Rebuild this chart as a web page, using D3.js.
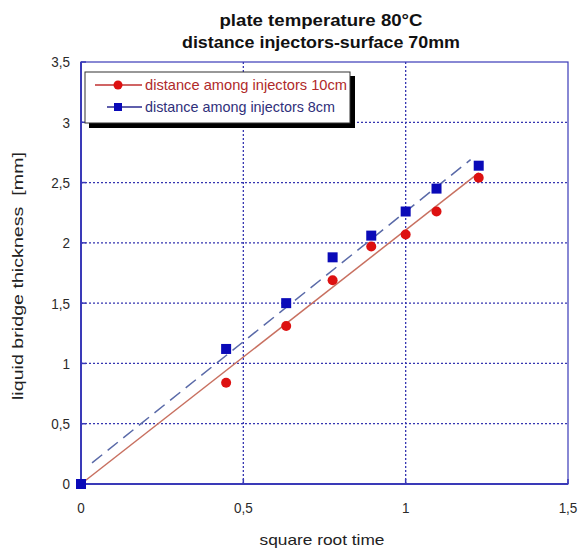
<!DOCTYPE html>
<html lang="en">
<head>
<meta charset="UTF-8">
<title>liquid bridge thickness</title>
<script src="https://d3js.org/d3.v7.min.js"></script>
<style>
  body { margin: 0; background: #fff; }
  text { font-family: "Liberation Sans", Arial, sans-serif; }
</style>
</head>
<body>
<script>
// data
const sqrtTime = [0, 0.447, 0.632, 0.775, 0.894, 1.0, 1.095, 1.225];
const thick10cm = [0, 0.84, 1.31, 1.69, 1.97, 2.07, 2.26, 2.54];
const thick8cm = [0, 1.12, 1.50, 1.88, 2.06, 2.26, 2.45, 2.64];
// fitted lines (start / end points)
const fit10cm = [[0, 0], [1.225, 2.58]];
const fit8cm = [[0.034, 0.175], [1.2, 2.69]];
const xTicks = [0, 0.5, 1, 1.5];
const yTicks = [0, 0.5, 1, 1.5, 2, 2.5, 3, 3.5];
const titleLines = ["plate temperature 80°C", "distance injectors-surface 70mm"];
const legendLabels = ["distance among injectors 10cm", "distance among injectors 8cm"];

const W = 581, H = 548;
const margin = {left: 81, right: 13, top: 62, bottom: 64};

const svg = d3.select("body").append("svg")
    .attr("width", W)
    .attr("height", H);

const x = d3.scaleLinear().domain([0, 1.5]).range([margin.left, W - margin.right]);
const y = d3.scaleLinear().domain([0, 3.5]).range([H - margin.bottom, margin.top]);

const axisBlue = "#3a3ab8";
const fmt = d => String(d).replace(".", ",");

// grid
svg.append("g").selectAll("line.gy")
    .data(yTicks.slice(1, -1))
    .enter().append("line")
    .attr("x1", x(0)).attr("x2", x(1.5))
    .attr("y1", d => y(d)).attr("y2", d => y(d))
    .attr("stroke", "#3535b0").attr("stroke-width", 1.3)
    .attr("stroke-dasharray", "2,2");
svg.append("g").selectAll("line.gx")
    .data(xTicks.slice(1, -1))
    .enter().append("line")
    .attr("y1", y(0)).attr("y2", y(3.5))
    .attr("x1", d => x(d)).attr("x2", d => x(d))
    .attr("stroke", "#3535b0").attr("stroke-width", 1.3)
    .attr("stroke-dasharray", "2,2");

// frame
svg.append("rect")
    .attr("x", x(0)).attr("y", y(3.5))
    .attr("width", x(1.5) - x(0)).attr("height", y(0) - y(3.5))
    .attr("fill", "none").attr("stroke", axisBlue).attr("stroke-width", 1.2);
svg.append("line")
    .attr("x1", x(0)).attr("x2", x(0)).attr("y1", y(0)).attr("y2", y(3.5))
    .attr("stroke", axisBlue).attr("stroke-width", 2);
svg.append("line")
    .attr("x1", x(0)).attr("x2", x(1.5)).attr("y1", y(0)).attr("y2", y(0))
    .attr("stroke", axisBlue).attr("stroke-width", 2);

// small inner ticks
xTicks.forEach(t => {
  svg.append("line").attr("x1", x(t)).attr("x2", x(t))
     .attr("y1", y(0)).attr("y2", y(0) - 5).attr("stroke", axisBlue).attr("stroke-width", 1.5);
});
yTicks.forEach(t => {
  svg.append("line").attr("x1", x(0)).attr("x2", x(0) + 5)
     .attr("y1", y(t)).attr("y2", y(t)).attr("stroke", axisBlue).attr("stroke-width", 1.5);
});

// tick labels
svg.append("g").selectAll("text")
    .data(yTicks)
    .enter().append("text")
    .attr("x", x(0) - 11).attr("y", d => y(d) + 5.5)
    .attr("text-anchor", "end").attr("font-size", 15).attr("fill", "#2a2a2a")
    .attr("transform", d => `translate(${x(0) - 11},0) scale(0.9,1) translate(${-(x(0) - 11)},0)`)
    .text(fmt);
svg.append("g").selectAll("text")
    .data(xTicks)
    .enter().append("text")
    .attr("x", d => x(d)).attr("y", y(0) + 29)
    .attr("text-anchor", "middle").attr("font-size", 15).attr("fill", "#2a2a2a")
    .attr("transform", d => `translate(${x(d)},0) scale(0.9,1) translate(${-x(d)},0)`)
    .text(fmt);

// axis titles
svg.append("text")
    .attr("x", 322).attr("y", 545)
    .attr("text-anchor", "middle").attr("font-size", 15).attr("fill", "#222")
    .attr("textLength", 125).attr("lengthAdjust", "spacingAndGlyphs")
    .text("square root time");
svg.append("text")
    .attr("transform", "translate(23,276) rotate(-90)")
    .attr("text-anchor", "middle").attr("font-size", 15).attr("fill", "#222")
    .attr("xml:space", "preserve")
    .attr("textLength", 248).attr("lengthAdjust", "spacingAndGlyphs")
    .text("liquid bridge thickness  [mm]");

// chart title
svg.append("g").selectAll("text")
    .data(titleLines)
    .enter().append("text")
    .attr("x", 321).attr("y", (d, i) => 26 + i * 22)
    .attr("text-anchor", "middle").attr("font-size", 16).attr("font-weight", "bold")
    .attr("fill", "#111")
    .attr("textLength", (d, i) => i === 0 ? 203 : 278).attr("lengthAdjust", "spacingAndGlyphs")
    .text(d => d);

// fit lines
const line = d3.line().x(d => x(d[0])).y(d => y(d[1]));
svg.append("path").datum(fit10cm).attr("d", line)
    .attr("fill", "none").attr("stroke", "#c87060").attr("stroke-width", 1.5);
svg.append("path").datum(fit8cm).attr("d", line)
    .attr("fill", "none").attr("stroke", "#5a6aa8").attr("stroke-width", 1.5)
    .attr("stroke-dasharray", "13,7");

// points
svg.append("g").selectAll("circle")
    .data(sqrtTime.map((t, i) => [t, thick10cm[i]]))
    .enter().append("circle")
    .attr("cx", d => x(d[0])).attr("cy", d => y(d[1])).attr("r", 5)
    .attr("fill", "#dd1111");
svg.append("g").selectAll("rect")
    .data(sqrtTime.map((t, i) => [t, thick8cm[i]]))
    .enter().append("rect")
    .attr("x", d => x(d[0]) - 5).attr("y", d => y(d[1]) - 5)
    .attr("width", 10).attr("height", 10)
    .attr("fill", "#0a0ab8");

// legend
const lg = svg.append("g").attr("transform", "translate(85,72)");
lg.append("rect").attr("x", 4).attr("y", 4).attr("width", 266).attr("height", 52).attr("fill", "#000");
lg.append("rect").attr("x", 0).attr("y", 0).attr("width", 265).attr("height", 51)
    .attr("fill", "#fff").attr("stroke", "#333").attr("stroke-width", 1);
const legColors = ["#b02a2a", "#30307a"];
const lineColors = ["#c03030", "#2a2a90"];
legendLabels.forEach((lab, i) => {
  const yy = 13 + i * 22;
  lg.append("line").attr("x1", i === 0 ? 10 : 22).attr("x2", 57).attr("y1", yy).attr("y2", yy)
    .attr("stroke", lineColors[i]).attr("stroke-width", 1.3);
  if (i === 0) {
    lg.append("circle").attr("cx", 33).attr("cy", yy).attr("r", 4.5).attr("fill", "#dd1111");
  } else {
    lg.append("rect").attr("x", 29).attr("y", yy - 4).attr("width", 8).attr("height", 8).attr("fill", "#0a0ab8");
  }
  lg.append("text").attr("x", 60).attr("y", yy + 5)
    .attr("font-size", 14.5).attr("fill", legColors[i])
    .attr("textLength", i === 0 ? 202 : 190).attr("lengthAdjust", "spacingAndGlyphs")
    .text(lab);
});
</script>
</body>
</html>
